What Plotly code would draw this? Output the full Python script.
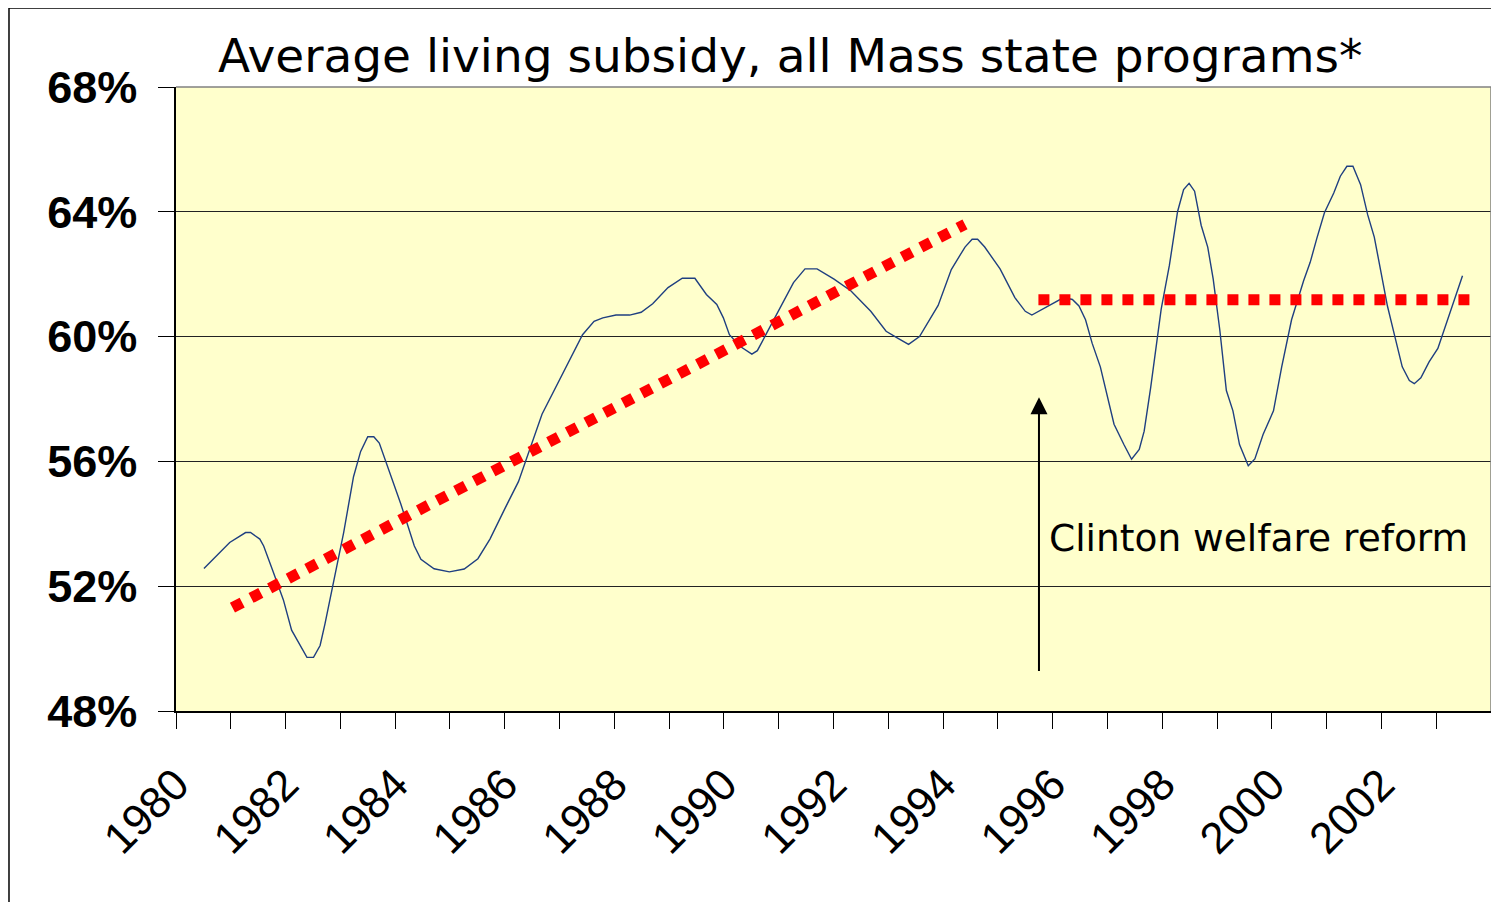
import plotly.graph_objects as go

# Average living subsidy (%)
years = [
    1980.51, 1980.98, 1981.27, 1981.36, 1981.53, 1981.60, 1981.78, 1981.96, 1982.11, 1982.26,
    1982.39, 1982.51, 1982.63, 1982.72, 1982.88, 1983.06, 1983.24, 1983.37, 1983.50, 1983.61,
    1983.71, 1983.82, 1983.98, 1984.10, 1984.22, 1984.35, 1984.47, 1984.71, 1984.99, 1985.26,
    1985.51, 1985.73, 1986.00, 1986.25, 1986.68, 1987.05, 1987.42, 1987.63, 1987.79, 1988.03,
    1988.28, 1988.49, 1988.70, 1988.98, 1989.24, 1989.47, 1989.68, 1989.87, 1989.99, 1990.10,
    1990.30, 1990.51, 1990.61, 1990.78, 1991.09, 1991.27, 1991.48, 1991.70, 1992.01, 1992.32,
    1992.68, 1992.96, 1993.17, 1993.37, 1993.57, 1993.91, 1994.15, 1994.40, 1994.53, 1994.63,
    1994.76, 1995.04, 1995.31, 1995.50, 1995.62, 1995.93, 1996.20, 1996.36, 1996.48, 1996.60,
    1996.72, 1996.87, 1996.97, 1997.12, 1997.30, 1997.44, 1997.58, 1997.67, 1997.79, 1997.92,
    1997.98, 1998.13, 1998.28, 1998.39, 1998.49, 1998.59, 1998.71, 1998.83, 1998.93, 1999.05,
    1999.17, 1999.29, 1999.41, 1999.57, 1999.69, 1999.84, 2000.03, 2000.18, 2000.36, 2000.58,
    2000.70, 2000.82, 2000.96, 2001.13, 2001.25, 2001.37, 2001.48, 2001.62, 2001.75, 2001.87,
    2001.99, 2002.11, 2002.23, 2002.38, 2002.51, 2002.60, 2002.72, 2002.87, 2003.03, 2003.27,
    2003.48,
]
subsidy = [
    52.57, 53.40, 53.72, 53.72, 53.51, 53.29, 52.43, 51.56, 50.59, 50.10,
    49.72, 49.72, 50.10, 50.80, 52.21, 53.72, 55.51, 56.32, 56.79, 56.79,
    56.59, 56.05, 55.24, 54.65, 54.00, 53.29, 52.86, 52.56, 52.46, 52.55,
    52.88, 53.51, 54.48, 55.35, 57.51, 58.81, 60.06, 60.49, 60.60, 60.69,
    60.69, 60.78, 61.05, 61.57, 61.87, 61.87, 61.35, 61.03, 60.60, 60.06,
    59.68, 59.44, 59.55, 60.11, 61.12, 61.73, 62.17, 62.17, 61.84, 61.46,
    60.81, 60.17, 59.95, 59.75, 60.00, 61.00, 62.15, 62.87, 63.12, 63.12,
    62.87, 62.17, 61.25, 60.81, 60.69, 60.98, 61.25, 61.19, 60.98, 60.54,
    59.79, 59.03, 58.32, 57.19, 56.54, 56.07, 56.38, 56.97, 58.38, 60.00,
    60.87, 62.28, 64.01, 64.71, 64.91, 64.66, 63.57, 62.87, 61.84, 60.22,
    58.27, 57.62, 56.54, 55.86, 56.08, 56.86, 57.62, 59.03, 60.54, 61.79,
    62.38, 63.14, 63.97, 64.60, 65.14, 65.46, 65.46, 64.87, 63.90, 63.19,
    62.06, 60.98, 60.11, 59.03, 58.59, 58.49, 58.68, 59.19, 59.62, 60.87,
    61.95,
]

# trend lines (start, end)
trend_pre_x = [1981.03, 1994.40]
trend_pre_y = [51.31, 63.60]
trend_post_x = [1995.74, 2003.69]
trend_post_y = [61.18, 61.18]

# reform arrow
reform_year = 1995.75
arrow_tip = 58.06
arrow_tail = 49.23

tick_years = list(range(1980, 2005))
tick_text = [str(y) if (y % 2 == 0 and y <= 2002) else "" for y in tick_years]
y_ticks = [48, 52, 56, 60, 64, 68]
y_labels = [f"{v}%" for v in y_ticks]

fig = go.Figure()

fig.add_trace(go.Scatter(
    x=years, y=subsidy,
    mode="lines",
    line=dict(color="#1f3f80", width=1.4),
    hoverinfo="skip"
))

for tx, ty in [(trend_pre_x, trend_pre_y), (trend_post_x, trend_post_y)]:
    fig.add_trace(go.Scatter(
        x=tx, y=ty,
        mode="lines",
        line=dict(color="#ff0000", width=11, dash="11px,10px"),
        hoverinfo="skip"
    ))

# arrow + label
fig.add_annotation(
    x=reform_year, y=arrow_tip,
    ax=reform_year, ay=arrow_tail,
    xref="x", yref="y", axref="x", ayref="y",
    text="", showarrow=True,
    arrowhead=2, arrowsize=1.7, arrowwidth=2, arrowcolor="black"
)
fig.add_annotation(
    x=reform_year + 0.14, y=53.55,
    xref="x", yref="y",
    xanchor="left", yanchor="middle",
    text="Clinton welfare reform", showarrow=False,
    font=dict(family="DejaVu Sans", size=37.5, color="black")
)

# top/right border of plot area (gray)
fig.add_shape(type="line", xref="paper", yref="paper", x0=0, x1=1, y0=1, y1=1,
              line=dict(color="#808080", width=1.5), layer="above")
fig.add_shape(type="line", xref="paper", yref="paper", x0=1, x1=1, y0=0, y1=1,
              line=dict(color="#808080", width=1.5), layer="above")

# outer frame (top and left only)
fig.add_shape(type="line", xref="paper", yref="paper", x0=-0.127, x1=1.02, y0=1.1266, y1=1.1266,
              line=dict(color="black", width=1.5), layer="above")
fig.add_shape(type="line", xref="paper", yref="paper", x0=-0.127, x1=-0.127, y0=-0.33, y1=1.1266,
              line=dict(color="black", width=1.5), layer="above")

# page body has an 8px margin, so the figure is offset by it
fig.update_layout(
    width=1491, height=894,
    margin=dict(l=168, r=8, t=79, b=191),
    showlegend=False,
    plot_bgcolor="#ffffcc",
    paper_bgcolor="white",
    title=dict(
        text="Average living subsidy, all Mass state programs*",
        xref="container", yref="container",
        x=210 / 1491, xanchor="left",
        y=1 - 48 / 894, yanchor="middle",
        font=dict(family="DejaVu Sans", size=47, color="black")
    ),
    xaxis=dict(
        range=[1980, 2004],
        tickvals=tick_years, ticktext=tick_text,
        tickangle=-45,
        ticks="outside", ticklen=16, tickcolor="black", tickwidth=1,
        ticklabelstandoff=12,
        showline=True, linecolor="black", linewidth=1.5,
        showgrid=False, zeroline=False,
        tickfont=dict(family="Liberation Sans", size=44, color="black"),
        fixedrange=True
    ),
    yaxis=dict(
        range=[48, 68],
        tickvals=y_ticks, ticktext=y_labels,
        ticks="outside", ticklen=16, tickcolor="black", tickwidth=1,
        ticklabelstandoff=12,
        showline=True, linecolor="black", linewidth=1.5,
        showgrid=True, gridcolor="#222222", gridwidth=1,
        zeroline=False,
        tickfont=dict(family="Liberation Sans", size=45, color="black", weight="bold"),
        fixedrange=True
    ),
)

fig.write_html("out.html")
